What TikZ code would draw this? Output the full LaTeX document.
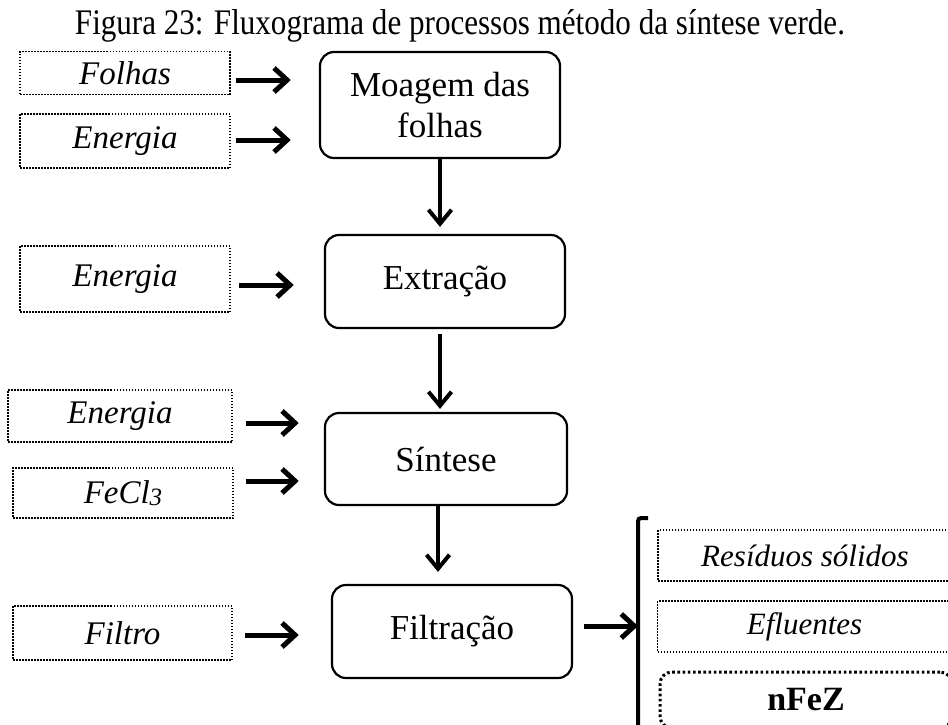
\documentclass[tikz,border=0pt]{standalone}
\usepackage{graphicx}
\usepackage{fontspec}
\setmainfont{Liberation Serif}
\usetikzlibrary{arrows.meta,calc}
\begin{document}
\begin{tikzpicture}[x=1pt,y=-1pt,
  proc/.style={draw, line width=2.2pt, rounded corners=14pt, align=center,
    font=\fontsize{35}{41}\selectfont, inner sep=0pt},
  inp/.style={draw, line width=1.5pt, dash pattern=on 1.5pt off 1.5pt,
    font=\fontsize{33}{36}\selectfont\itshape, inner sep=0pt},
  outbox/.style={draw, line width=1.5pt, dash pattern=on 1.5pt off 1.5pt,
    font=\fontsize{31}{34}\selectfont\itshape, inner sep=0pt, minimum width=294},
  harrow/.style={line width=5pt, -{Straight Barb[length=13pt,width=24pt]}},
  varrow/.style={line width=4pt, -{Straight Barb[length=14pt,width=23pt]}},
]
\useasboundingbox (0,0) rectangle (948,724);
\clip (0,0) rectangle (948,724);

% title
\node[anchor=base, inner sep=0pt] (title) at (460,34)
  {\resizebox{770pt}{\height}{\fontsize{36}{38}\selectfont Figura 23: Fluxograma de processos método da síntese verde.}};

% inputs
\node[inp, minimum width=210, minimum height=43] (folhas) at (125,73) {Folhas};
\node[inp, minimum width=210, minimum height=54] (energia1) at (125,141) {Energia};
\node[inp, minimum width=210, minimum height=66] (energia2) at (125,279) {Energia};
\node[inp, minimum width=224, minimum height=52] (energia3) at (120,416) {Energia};
\node[inp, minimum width=220, minimum height=50] (fecl) at (123,493) {FeCl\raisebox{-0.05em}{\fontsize{25}{27}\selectfont 3}};
\node[inp, minimum width=219, minimum height=54] (filtro) at (122.5,633) {Filtro};

% processes
\node[proc, minimum width=240, minimum height=106] (moagem) at (440,105) {Moagem das\\folhas};
\node[proc, minimum width=240, minimum height=93] (extracao) at (445,281.5) {Extração};
\node[proc, minimum width=242, minimum height=92] (sintese) at (446,459) {Síntese};
\node[proc, minimum width=240, minimum height=93] (filtracao) at (452,631.5) {Filtração};

% outputs
\node[outbox, minimum height=51] (residuos) at (805,555.5) {Resíduos sólidos};
\node[outbox, minimum height=51] (efluentes) at (804.5,626.5) {Efluentes};
\node[draw, line width=3pt, dash pattern=on 2.6pt off 2.6pt, rounded corners=12pt,
  minimum width=292, minimum height=56, inner sep=0pt,
  font=\fontsize{34}{36}\selectfont\bfseries] (nfez) at (806,700) {nFeZ};

% bracket
\coordinate (brtop) at (648,518);
\coordinate (brk) at (638,626);
\draw[line width=4pt, rounded corners=3pt] (brtop) -- (638,518) -- (638,740);

% input arrows
\draw[harrow] ([shift={(5,7)}]folhas.east) -- ++(55,0);
\draw[harrow] ([shift={(5,-1)}]energia1.east) -- ++(55,0);
\draw[harrow] ([shift={(8,6)}]energia2.east) -- ++(55,0);
\draw[harrow] ([shift={(13,7)}]energia3.east) -- ++(53,0);
\draw[harrow] ([shift={(12,-12)}]fecl.east) -- ++(53,0);
\draw[harrow] ([shift={(12,2)}]filtro.east) -- ++(54,0);

% process arrows
\draw[varrow, shorten >=7pt] (moagem.south) -- (moagem.south |- extracao.north);
\draw[varrow, shorten <=5pt, shorten >=3pt] (extracao.south -| moagem.south) -- (sintese.north -| moagem.south);
\draw[varrow, shorten >=12pt] ([xshift=-2pt]sintese.south -| moagem.south) -- ([xshift=-2pt]filtracao.north -| moagem.south);
\draw[harrow] ([shift={(11,-5.5)}]filtracao.east) -- (brk);
\end{tikzpicture}
\end{document}
